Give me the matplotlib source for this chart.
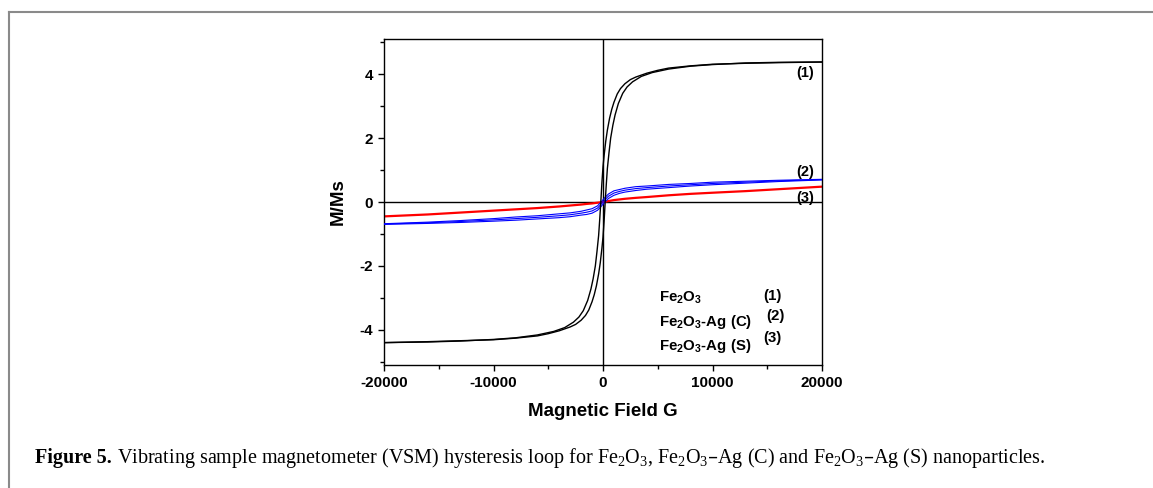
import numpy as np
import matplotlib
matplotlib.use("Agg")
import matplotlib.pyplot as plt
from matplotlib.ticker import MultipleLocator, AutoMinorLocator
from matplotlib.lines import Line2D

plt.rcParams['font.family'] = ['Liberation Sans', 'DejaVu Sans']
plt.rcParams['font.weight'] = 'bold'
plt.rcParams['mathtext.default'] = 'regular'
plt.rcParams['axes.unicode_minus'] = False

# Fe2O3 (1): descending branch (from +H to -H)
h_fe_down = [20000, 16000, 13000, 10000, 8000, 6000, 5000, 4000, 3000, 2500, 2000, 1600, 1300,
             1000, 800, 600, 400, 250, 100, 0, -100, -200, -300, -400, -550, -700, -900, -1100,
             -1400, -1800, -2200, -2700, -3500, -4500, -6000, -8000, -10000, -13000, -16000, -20000]
m_fe_down = [4.38, 4.36, 4.34, 4.31, 4.26, 4.19, 4.12, 4.03, 3.91, 3.83, 3.70, 3.55, 3.38,
             3.12, 2.90, 2.62, 2.25, 1.90, 1.45, 1.10, 0.60, 0.00, -0.55, -1.05, -1.55, -2.00, -2.40, -2.72,
             -3.08, -3.40, -3.60, -3.76, -3.93, -4.05, -4.16, -4.25, -4.30, -4.35, -4.38, -4.40]
# Fe2O3 (1): ascending branch (from -H to +H)
h_fe_up = [-20000, -16000, -13000, -10000, -8000, -6000, -5000, -4000, -3000, -2500, -2000, -1600, -1300,
           -1000, -800, -600, -400, -250, -100, 0, 100, 200, 300, 400, 550, 700, 900, 1100,
           1400, 1800, 2200, 2700, 3500, 4500, 6000, 8000, 10000, 13000, 16000, 20000]
m_fe_up = [-4.40, -4.37, -4.34, -4.31, -4.26, -4.19, -4.12, -4.03, -3.91, -3.83, -3.70, -3.55, -3.38,
           -3.12, -2.90, -2.62, -2.25, -1.90, -1.45, -1.10, -0.60, 0.00, 0.55, 1.05, 1.55, 2.00, 2.40, 2.72,
           3.08, 3.40, 3.60, 3.76, 3.93, 4.05, 4.16, 4.25, 4.30, 4.35, 4.37, 4.38]

# Fe2O3-Ag (C) (2) and Fe2O3-Ag (S) (3)
h_ag = [-20000, -16000, -13000, -10000, -8000, -6000, -4000, -3000, -2000, -1500, -1000, -500, -200,
        0, 200, 500, 1000, 1500, 2000, 3000, 4000, 6000, 8000, 10000, 13000, 16000, 20000]
m_c_upper = [-0.68, -0.63, -0.58, -0.52, -0.47, -0.43, -0.37, -0.34, -0.29, -0.25, -0.21, -0.12, -0.01,
             0.07, 0.15, 0.25, 0.35, 0.39, 0.43, 0.48, 0.50, 0.55, 0.58, 0.62, 0.65, 0.68, 0.71]
m_c_mid = [-0.69, -0.65, -0.61, -0.56, -0.52, -0.48, -0.43, -0.40, -0.35, -0.32, -0.28, -0.19, -0.08,
           0.00, 0.08, 0.18, 0.28, 0.33, 0.37, 0.42, 0.45, 0.50, 0.54, 0.58, 0.62, 0.66, 0.70]
m_c_lower = [-0.70, -0.67, -0.64, -0.60, -0.57, -0.53, -0.49, -0.46, -0.41, -0.39, -0.35, -0.26, -0.15,
             -0.07, 0.01, 0.11, 0.21, 0.27, 0.31, 0.36, 0.40, 0.45, 0.50, 0.54, 0.59, 0.64, 0.69]
m_s = [-0.45, -0.39, -0.33, -0.27, -0.23, -0.19, -0.14, -0.11, -0.08, -0.06, -0.045, -0.022, -0.009,
       0.0, 0.01, 0.03, 0.06, 0.08, 0.10, 0.13, 0.155, 0.21, 0.255, 0.29, 0.34, 0.40, 0.48]

legend_names = [r'Fe$_2$O$_3$', r'Fe$_2$O$_3$-Ag (C)', r'Fe$_2$O$_3$-Ag (S)']
legend_tags = ['(1)', '(2)', '(3)']

W, H = 1153, 488
fig = plt.figure(figsize=(W / 100, H / 100), dpi=100)
ax = fig.add_axes([384 / W, 1 - 365 / H, (822 - 384) / W, (365 - 39) / H])

ax.axhline(0, color='black', lw=1.0, zorder=1)
ax.axvline(0, color='black', lw=1.0, zorder=1)

ax.plot(h_ag, m_s, color='#ff0000', lw=1.6, zorder=2)
for m in (m_c_upper, m_c_mid, m_c_lower):
    ax.plot(h_ag, m, color='#0000ff', lw=0.8, zorder=3)
ax.plot(h_fe_down, m_fe_down, color='black', lw=1.0, zorder=4)
ax.plot(h_fe_up, m_fe_up, color='black', lw=1.0, zorder=4)

ax.set_xlim(-20000, 20000)
ax.set_ylim(-5.1, 5.1)
ax.xaxis.set_major_locator(MultipleLocator(10000))
ax.xaxis.set_minor_locator(AutoMinorLocator(2))
ax.yaxis.set_major_locator(MultipleLocator(2))
ax.yaxis.set_minor_locator(AutoMinorLocator(2))
ax.tick_params(which='both', direction='out', width=1.0, labelsize=11, top=False, right=False)
ax.tick_params(which='major', length=4, pad=4)
ax.tick_params(which='minor', length=3)
for s in ax.spines.values():
    s.set_linewidth(1.0)

ax.set_xlabel('Magnetic Field G', fontsize=13.5, fontweight='bold', labelpad=9)
ax.set_ylabel('M/Ms', fontsize=13.5, fontweight='bold', labelpad=9)

# curve tags
ax.text(18450, 4.04, '(1)', fontsize=10.5, ha='center', va='center')
ax.text(18450, 0.93, '(2)', fontsize=10.5, ha='center', va='center')
ax.text(18450, 0.13, '(3)', fontsize=10.5, ha='center', va='center')

# legend block
ys = [-2.99, -3.74, -4.49]
tag_xy = [(14600, -2.93), (14900, -3.58), (14600, -4.24)]
for name, y, tag, (tx, ty) in zip(legend_names, ys, legend_tags, tag_xy):
    ax.text(5110, y, name, fontsize=10.8, ha='left', va='center')
    ax.text(tx, ty, tag, fontsize=10.8, ha='left', va='center')

# page frame (top and left edges visible)
fig.add_artist(Line2D([9 / W, 9 / W], [0, 1 - 12 / H], transform=fig.transFigure, color='#8a8a8a', lw=1.5))
fig.add_artist(Line2D([9 / W, 1], [1 - 12 / H, 1 - 12 / H], transform=fig.transFigure, color='#8a8a8a', lw=1.5))

# caption
cap_bold = 'Figure 5.'
cap_rest = (r' Vibrating sample magnetometer (VSM) hysteresis loop for Fe$_2$O$_3$, '
            r'Fe$_2$O$_3$–Ag (C) and Fe$_2$O$_3$–Ag (S) nanoparticles.')
fs = 11.0
x0, yb, x_end = 35, 463, 1047
renderer = fig.canvas.get_renderer()
for _ in range(3):
    t1 = fig.text(x0 / W, 1 - yb / H, cap_bold, family='Liberation Serif', fontweight='bold',
                  fontsize=fs, va='baseline', ha='left')
    b1 = t1.get_window_extent(renderer)
    t2 = fig.text(b1.x1 / W, 1 - yb / H, cap_rest, family='Liberation Serif', fontweight='normal',
                  fontsize=fs, va='baseline', ha='left')
    b2 = t2.get_window_extent(renderer)
    width = b2.x1 - x0
    t1.remove()
    t2.remove()
    fs = fs * (x_end - x0) / width
t1 = fig.text(x0 / W, 1 - yb / H, cap_bold, family='Liberation Serif', fontweight='bold',
              fontsize=fs, va='baseline', ha='left')
b1 = t1.get_window_extent(renderer)
fig.text(b1.x1 / W, 1 - yb / H, cap_rest, family='Liberation Serif', fontweight='normal',
         fontsize=fs, va='baseline', ha='left')

fig.savefig('out.png', dpi=100)
